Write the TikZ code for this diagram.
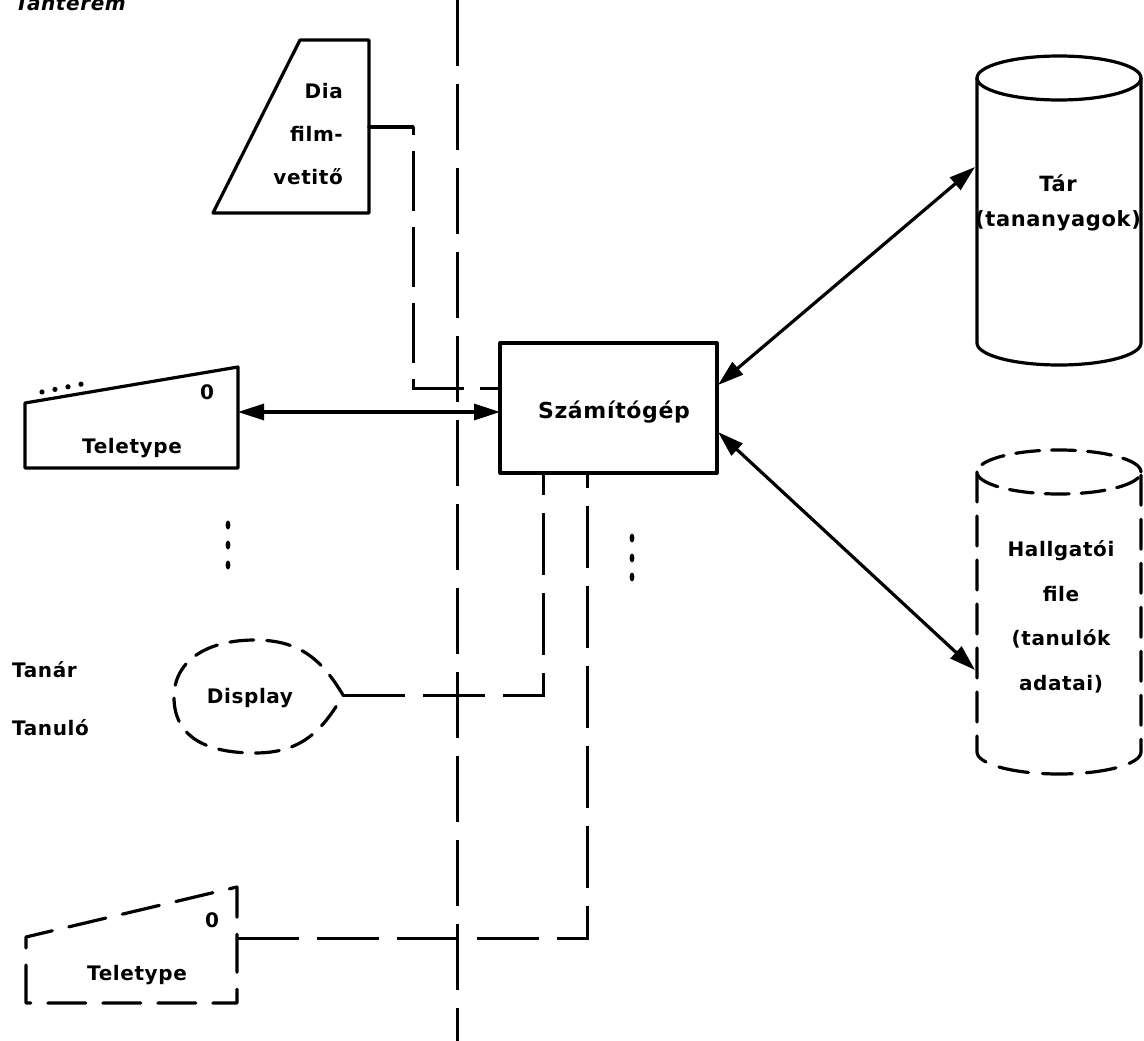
\documentclass[tikz,border=0pt]{standalone}
\usepackage{fontspec}
\setmainfont{DejaVu Sans}[LetterSpace=3]
\usetikzlibrary{arrows.meta}
\tikzset{
  ln/.style={line width=3.2pt, line cap=round, line join=round},
  conn/.style={line width=3pt, dash pattern=on 62pt off 18pt},
  bound/.style={line width=3pt, dash pattern=on 66pt off 18pt},
  tip/.style={ln, {Triangle[length=26pt,width=16pt]}-{Triangle[length=26pt,width=16pt]}},
  lbl/.style={font=\fontsize{20}{43}\selectfont\bfseries, inner sep=0pt},
  dot/.style={fill=black, draw=none}
}
\begin{document}
\begin{tikzpicture}[x=1pt,y=-1pt]
\useasboundingbox (0,0) rectangle (1144,1041);
\fill[white] (0,0) rectangle (1144,1041);

% top title (cropped as in the reference)
\node[lbl, anchor=base west, font=\fontsize{20}{24}\selectfont\bfseries\itshape] (title) at (15,11) {Tanterem};

% boundary line
\coordinate (b1) at (457,0);
\coordinate (b2) at (457,1041);
\draw[bound] (b1) -- (b2);

% Dia filmvetito
\coordinate (diaA) at (300,40);
\coordinate (diaB) at (369,40);
\coordinate (diaC) at (369,213);
\coordinate (diaD) at (213,213);
\draw[ln] (diaA) -- (diaB) -- (diaC) -- (diaD) -- cycle;
\node[lbl, align=right, anchor=east] (dia) at (343,134) {Dia\\film-\\vetitő};
\coordinate (diaOut) at (369,127);

% computer
\node[ln, draw, minimum width=217pt, minimum height=130pt, inner sep=0pt] (comp) at (608.5,408) {};
\node[lbl, font=\fontsize{22}{26}\selectfont\bfseries] (compt) at (614,412) {Számítógép};

% teletype 1
\coordinate (t1a) at (25,468);
\coordinate (t1b) at (25,403);
\coordinate (t1c) at (238,367);
\coordinate (t1d) at (238,468);
\draw[ln] (t1a) -- (t1b) -- (t1c) -- (t1d) -- cycle;
\node[lbl] (t1o) at (207,392) {0};
\node[lbl] (t1t) at (132,448) {Teletype};
\foreach \i in {0,1,2,3} \fill[dot] (42+13*\i,392-2.6*\i) circle (2.6pt);
\coordinate (t1out) at (238,412);
\coordinate (compIn) at (500,412);
\draw[tip] (t1out) -- (compIn);

% dia connection
\coordinate (dc1) at (413,127);
\coordinate (dc2) at (413,388);
\coordinate (dcIn) at (500,388);
\draw[ln] (diaOut) -- (dc1);
\draw[line width=3pt, dash pattern=on 60pt off 16pt, dash phase=52pt] (dc1) -- (dc2) -- (dcIn);

% vertical dots
\foreach \y in {525,545,565} \fill[dot] (228,\y) ellipse (2.4pt and 4.5pt);
\foreach \y in {538,558,577} \fill[dot] (632,\y) ellipse (2.4pt and 4.5pt);

% Tanar / Tanulo
\node[lbl, anchor=west] (tanar) at (12,670) {Tanár};
\node[lbl, anchor=west] (tanulo) at (12,728) {Tanuló};

% Display
\coordinate (dispP) at (343,695);
\draw[ln, dash pattern=on 24pt off 13pt] (dispP) .. controls (322,660) and (300,640) .. (255,640)
  .. controls (205,640) and (174,662) .. (174,697)
  .. controls (174,735) and (203,753) .. (255,753)
  .. controls (300,753) and (322,732) .. (dispP);
\node[lbl] (disp) at (250,698) {Display};
\coordinate (dsp1) at (543,695);
\coordinate (dsp2) at (543,473);
\draw[conn] (dispP) -- (dsp1) -- (dsp2);

% teletype 2
\coordinate (t2a) at (26,1003);
\coordinate (t2b) at (26,937);
\coordinate (t2c) at (237,887);
\coordinate (t2d) at (237,1003);
\draw[ln, dash pattern=on 38pt off 17pt] (t2a) -- (t2b) -- (t2c) -- (t2d) -- cycle;
\node[lbl] (t2o) at (212,920) {0};
\node[lbl] (t2t) at (137,975) {Teletype};
\coordinate (t2out) at (237,938);
\coordinate (tc1) at (587,938);
\coordinate (tc2) at (587,473);
\draw[conn] (t2out) -- (tc1) -- (tc2);

% Tar cylinder
\draw[ln] (1059,78) ellipse (82pt and 22pt);
\draw[ln] (977,78) -- (977,343) arc (180:360:82pt and 22pt) -- (1141,78);
\node[lbl, align=center, font=\fontsize{21}{35}\selectfont\bfseries] (tar) at (1058,203) {Tár\\(tananyagok)};

% Hallgatoi cylinder
\draw[ln, dash pattern=on 24pt off 12pt] (1059,472) ellipse (82pt and 22pt);
\draw[ln, dash pattern=on 30pt off 14pt] (977,472) -- (977,752) arc (180:360:82pt and 22pt) -- (1141,472);
\node[lbl, align=center, font=\fontsize{20}{44.5}\selectfont\bfseries] (hall) at (1061,617) {Hallgatói\\file\\(tanulók\\adatai)};

% arrows computer <-> storage
\coordinate (ca) at (718,385);
\coordinate (ta) at (975,167);
\coordinate (cb) at (718,432);
\coordinate (hb) at (975,670);
\draw[tip] (ca) -- (ta);
\draw[tip] (cb) -- (hb);
\end{tikzpicture}
\end{document}
